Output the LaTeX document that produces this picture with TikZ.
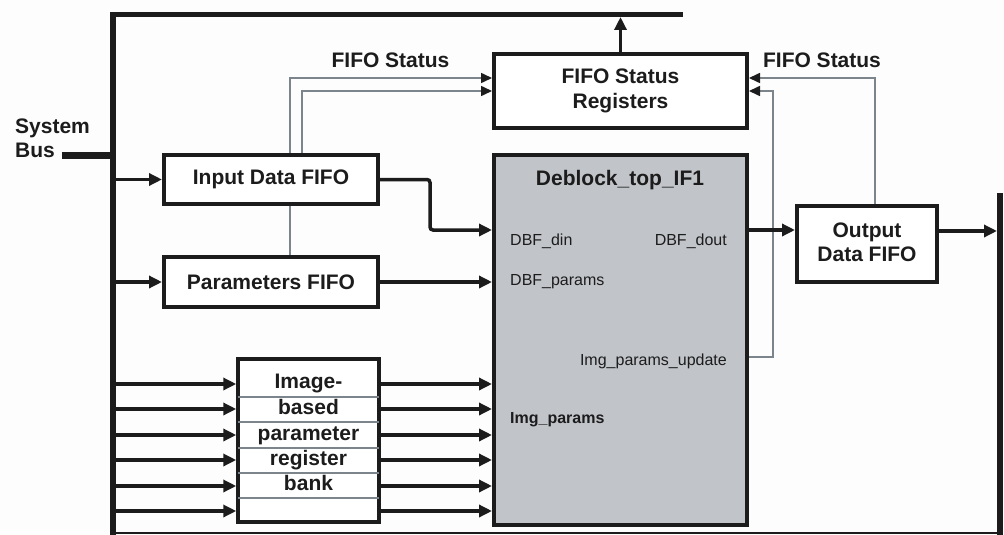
\documentclass[tikz,border=0pt]{standalone}
\usepackage{fontspec}
\setmainfont{Liberation Sans}
\usetikzlibrary{arrows.meta,backgrounds}
\definecolor{ink}{HTML}{1C1C1C}
\definecolor{sig}{HTML}{7C848C}
\definecolor{core}{HTML}{C1C4C9}
\definecolor{paper}{HTML}{FDFDFD}

\begin{document}
\begin{tikzpicture}[x=1pt,y=-1pt,
  box/.style={draw=ink, line width=4pt, fill=white, inner sep=0pt, text=ink,
    font=\bfseries\fontsize{21}{25}\selectfont, align=center},
  busline/.style={draw=ink, line width=5.5pt},
  dat/.style={draw=ink, line width=3.5pt, -{Triangle[length=13pt,width=12pt]}},
  stat/.style={draw=sig, line width=1.6pt, -{Triangle[length=11pt,width=10pt,color=ink]}},
  lbl/.style={text=ink, font=\bfseries\fontsize{21}{25}\selectfont, inner sep=0pt},
  port/.style={text=ink, font=\fontsize{16}{18}\selectfont, inner sep=0pt},
  bport/.style={port, font=\bfseries\fontsize{16}{18}\selectfont}]

\useasboundingbox (0,0) rectangle (1004,535);

% bus corner points
\coordinate (busTR) at (683,14.5);
\coordinate (busTL) at (113,14.5);
\coordinate (busBL) at (113,535);
\coordinate (busL)  at (113,0);
\coordinate (stub)  at (62,155);
\coordinate (rbusT) at (1000,193);
\coordinate (rbusB) at (1000,535);
\coordinate (floorL) at (113,533);
\coordinate (floorR) at (1000,533);

% blocks
\node[box, minimum width=214pt, minimum height=49pt] (infifo) at (271,179.5) {Input Data FIFO};
\node[box, minimum width=214pt, minimum height=50pt] (parfifo) at (271,282) {Parameters FIFO};
\node[box, minimum width=253pt, minimum height=74pt] (fsr) at (620.5,91) {FIFO Status\\Registers};
\node[box, fill=core, minimum width=253pt, minimum height=370pt] (dbk) at (620.5,339.5) {};
\node[box, minimum width=140pt, minimum height=76pt] (outfifo) at (867,244) {};
\node[box, line width=3.5pt, minimum width=141pt, minimum height=163pt] (bank) at (308.5,440.5) {};

% background and status wires
\begin{scope}[on background layer]
  \fill[paper] (0,0) rectangle (1004,535);
  \draw[stat] (parfifo.north -| 290,0) |- (fsr.west |- 0,78);
  \draw[stat] (infifo.north -| 302,0) |- (fsr.west |- 0,91);
  \draw[stat] (outfifo.north -| 875,0) |- (fsr.east |- 0,78);
  \draw[stat] (dbk.east |- 0,357) -| (773,91) -- (fsr.east |- 0,91);
\end{scope}

% system bus
\draw[busline] (busTR) -- (busTL) -- (busBL);
\draw[draw=ink, line width=7pt] (stub) -- (busL |- stub);
\draw[busline] (rbusT) -- (rbusB);
\draw[draw=ink, line width=2.5pt] (floorL) -- (floorR);

% register bank rows
\foreach \y in {397,422,448,473,498} {
  \draw[sig, line width=1.5pt, shorten <=2pt, shorten >=2pt] (bank.west |- 0,\y) -- (bank.east |- 0,\y);
}
\node[lbl, anchor=base] (bk1) at (308.5,388) {Image-};
\node[lbl, anchor=base] (bk2) at (308.5,414) {based};
\node[lbl, anchor=base] (bk3) at (308.5,440) {parameter};
\node[lbl, anchor=base] (bk4) at (308.5,465) {register};
\node[lbl, anchor=base] (bk5) at (308.5,490) {bank};

% data paths
\draw[dat] (busL |- infifo.west) -- (infifo.west);
\draw[dat] (busL |- parfifo.west) -- (parfifo.west);
\draw[dat, rounded corners=3pt] (infifo.east) -| (430,230) -- (dbk.west |- 0,230);
\draw[dat] (parfifo.east) -- (dbk.west |- parfifo.east);
\draw[dat] (dbk.east |- 0,230) -- (outfifo.west |- 0,230);
\draw[dat, shorten >=3pt] (outfifo.east |- 0,231) -- (rbusT |- 0,231);
\draw[dat, shorten >=2.5pt] (fsr.north) -- (fsr.north |- busTL);
\foreach \y in {384,409,435,460,486,511} {
  \draw[dat] (busL |- 0,\y) -- (bank.west |- 0,\y);
  \draw[dat] (bank.east |- 0,\y) -- (dbk.west |- 0,\y);
}

% labels
\node[lbl, anchor=base west] (sys1) at (15,133) {System};
\node[lbl, anchor=base west] (sys2) at (15,157) {Bus};
\node[lbl, anchor=base] (stL) at (390.5,68) {FIFO Status};
\node[lbl, anchor=base] (stR) at (822,68) {FIFO Status};
\node[lbl, anchor=base] (outA) at (867,237) {Output};
\node[lbl, anchor=base] (outB) at (867,261) {Data FIFO};
\node[lbl, anchor=base] (dbkT) at (620,185) {Deblock\_top\_IF1};
\node[port, anchor=base west] (pdin) at (510,245) {DBF\_din};
\node[port, anchor=base east] (pdout) at (727,245) {DBF\_dout};
\node[port, anchor=base west] (ppar) at (510,285) {DBF\_params};
\node[port, anchor=base east] (pupd) at (727,365) {Img\_params\_update};
\node[bport, anchor=base west] (pimg) at (510,423) {Img\_params};
\end{tikzpicture}
\end{document}
